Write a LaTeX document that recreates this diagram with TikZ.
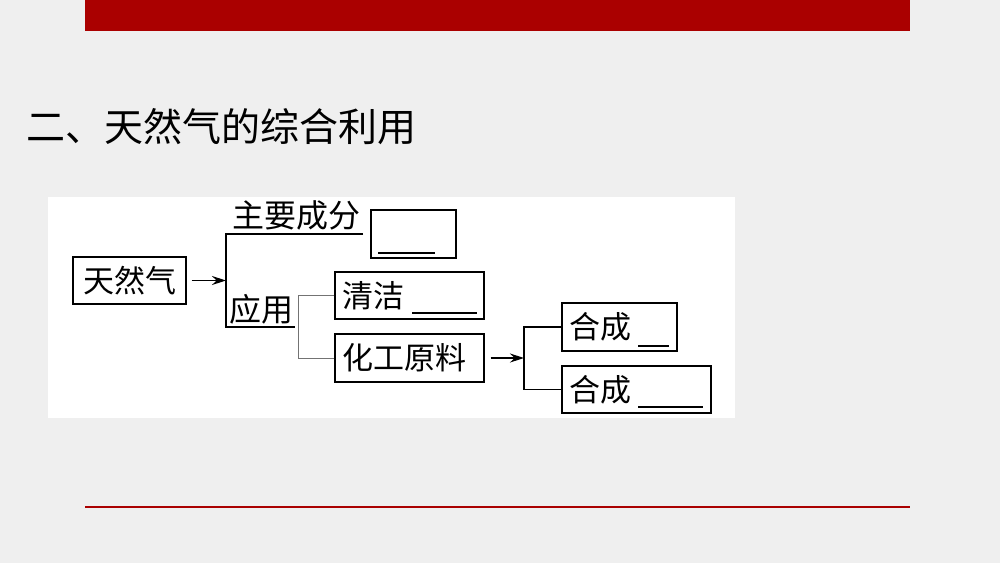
\documentclass[tikz,border=0pt]{standalone}
\usepackage{fontspec}
\setmainfont{Noto Sans CJK SC}
\newfontfamily\cjk{Noto Sans CJK SC}
\usetikzlibrary{arrows.meta,calc}
\definecolor{slidered}{HTML}{AA0000}
\definecolor{slidebg}{HTML}{EFEFEF}
\begin{document}
\begin{tikzpicture}[x=1pt,y=-1pt,
  box/.style={draw=black,line width=1.4pt,inner sep=0pt,anchor=center,font=\cjk\fontsize{31}{31}\selectfont},
  lbl/.style={inner sep=0pt,font=\cjk\fontsize{32}{32}\selectfont},
  link/.style={draw=black,line width=1.2pt},
  glink/.style={draw=black!55,line width=1pt},
  blank/.style={draw=black,line width=1.2pt},
  arr/.style={draw=black,line width=1.2pt,-{Stealth[length=14pt,width=9pt]}}]
\useasboundingbox (0,0) rectangle (1000,563);
\fill[slidebg] (0,0) rectangle (1000,563);
\fill[slidered] (85,0) rectangle (910,31);
\draw[slidered,line width=1.5pt] (85,507) -- (910,507);
\node[anchor=west,inner sep=0pt,font=\cjk\fontsize{39}{39}\selectfont] (title) at (26,127) {二、天然气的综合利用};
\fill[white] (48,197) rectangle (735,418);
% boxes
\node[box,minimum width=113pt,minimum height=47pt] (ng) at (129.5,280.5) {天然气};
\node[box,minimum width=85pt,minimum height=48pt] (main) at (413.5,234) {};
\node[box,minimum width=149pt,minimum height=47pt,text width=143pt,align=left] (clean) at (409.5,295.5) {\hspace*{4pt}清洁};
\node[box,minimum width=149pt,minimum height=48pt,text width=143pt,align=left] (chem) at (409.5,358) {\hspace*{4pt}化工原料};
\node[box,minimum width=115pt,minimum height=48pt,text width=109pt,align=left] (syn1) at (619.5,327) {\hspace*{4pt}合成};
\node[box,minimum width=149pt,minimum height=47pt,text width=143pt,align=left] (syn2) at (636.5,389.5) {\hspace*{4pt}合成};
% labels
\node[lbl] (zyf) at (296,215) {主要成分};
\node[lbl] (yy) at (261,309) {应用};
% blanks
\draw[blank] (378,253) -- (435,253);
\draw[blank] (412,313) -- (477,313);
\draw[blank] (638,346) -- (669,346);
\draw[blank] (638,407) -- (703,407);
% connectors
\coordinate (j1) at (226,280.5);
\coordinate (j1t) at (226,234);
\coordinate (j1b) at (226,327);
\coordinate (zyfend) at (363,234);
\coordinate (yyend) at (295,327);
\draw[arr] (ng.east) ++(5,0) -- (j1);
\draw[link] (zyfend) -- (j1t) -- (j1b) -- (yyend);
\coordinate (g) at (298,326);
\draw[glink] (clean.west) -| (g);
\draw[glink] (chem.west) -| (g);
\coordinate (j2) at (524,358);
\draw[arr] (chem.east) ++(6,0) -- (j2);
\draw[link] (syn1.west) -| (j2) |- (syn2.west);
\end{tikzpicture}
\end{document}
